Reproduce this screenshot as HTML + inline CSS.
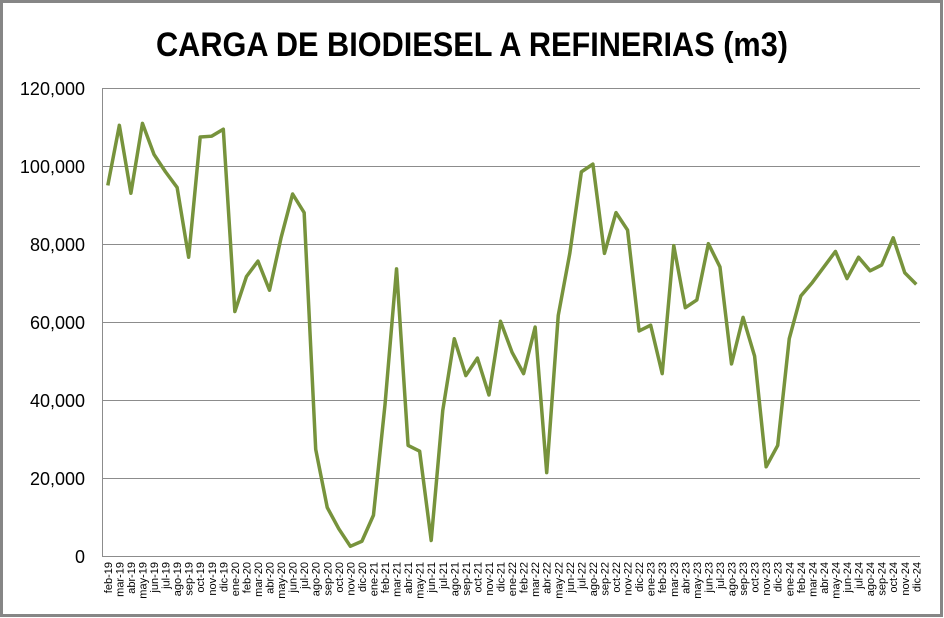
<!DOCTYPE html>
<html><head><meta charset="utf-8"><style>
html,body{margin:0;padding:0;background:#fff}
svg{display:block}
text{font-family:"Liberation Sans",sans-serif}
</style></head><body>
<svg width="944" height="618" viewBox="0 0 944 618" xmlns="http://www.w3.org/2000/svg">
<rect x="1.5" y="1.5" width="940" height="614" fill="#fff" stroke="#868686" stroke-width="3"/>
<text x="472" y="56" text-anchor="middle" font-size="34" font-weight="bold" textLength="632" lengthAdjust="spacingAndGlyphs">CARGA DE BIODIESEL A REFINERIAS (m3)</text>
<g stroke="#8c8c8c" stroke-width="1" fill="none">
<line x1="102" y1="88.5" x2="920" y2="88.5"/>
<line x1="102" y1="166.5" x2="920" y2="166.5"/>
<line x1="102" y1="244.5" x2="920" y2="244.5"/>
<line x1="102" y1="322.5" x2="920" y2="322.5"/>
<line x1="102" y1="400.5" x2="920" y2="400.5"/>
<line x1="102" y1="478.5" x2="920" y2="478.5"/>
<line x1="102" y1="556.5" x2="920" y2="556.5"/>
<line x1="102.5" y1="88" x2="102.5" y2="557"/>
</g>
<g font-size="18" text-anchor="end" fill="#000">
<text x="85" y="95">120,000</text>
<text x="85" y="173">100,000</text>
<text x="85" y="251">80,000</text>
<text x="85" y="329">60,000</text>
<text x="85" y="407">40,000</text>
<text x="85" y="485">20,000</text>
<text x="85" y="563">0</text>
</g>
<polyline fill="none" stroke="#77933C" stroke-width="3.5" stroke-linejoin="round" vector-effect="non-scaling-stroke" transform="translate(107.8,556) scale(11.55,-3.88)" points="0,95.5 1,111 2,93.5 3,111.5 4,103.5 5,99 6,95 7,77 8,108 9,108.2 10,110 11,63 12,72 13,76 14,68.5 15,82 16,93.3 17,88.5 18,27.5 19,12.5 20,7 21,2.5 22,3.8 23,10.5 24,39 25,74 26,28.5 27,27 28,4 29,37.5 30,56 31,46.5 32,51 33,41.5 34,60.5 35,52.5 36,47 37,59 38,21.5 39,62 40,78 41,99 42,101 43,78 44,88.5 45,84 46,58 47,59.5 48,47 49,80 50,64 51,66 52,80.5 53,74.5 54,49.5 55,61.5 56,51.5 57,23 58,28.5 59,56 60,67 61,70.5 62,74.5 63,78.5 64,71.5 65,77 66,73.5 67,75 68,82 69,73 70,70"/>
<g transform="translate(111.8,0) rotate(-90)" font-size="11" text-anchor="end" fill="#000">
<text x="-562" y="0">feb-19</text>
<text x="-562" y="11.6">mar-19</text>
<text x="-562" y="23.1">abr-19</text>
<text x="-562" y="34.7">may-19</text>
<text x="-562" y="46.2">jun-19</text>
<text x="-562" y="57.8">jul-19</text>
<text x="-562" y="69.3">ago-19</text>
<text x="-562" y="80.9">sep-19</text>
<text x="-562" y="92.4">oct-19</text>
<text x="-562" y="104">nov-19</text>
<text x="-562" y="115.5">dic-19</text>
<text x="-562" y="127.1">ene-20</text>
<text x="-562" y="138.6">feb-20</text>
<text x="-562" y="150.2">mar-20</text>
<text x="-562" y="161.7">abr-20</text>
<text x="-562" y="173.3">may-20</text>
<text x="-562" y="184.8">jun-20</text>
<text x="-562" y="196.4">jul-20</text>
<text x="-562" y="207.9">ago-20</text>
<text x="-562" y="219.5">sep-20</text>
<text x="-562" y="231">oct-20</text>
<text x="-562" y="242.6">nov-20</text>
<text x="-562" y="254.1">dic-20</text>
<text x="-562" y="265.7">ene-21</text>
<text x="-562" y="277.2">feb-21</text>
<text x="-562" y="288.8">mar-21</text>
<text x="-562" y="300.3">abr-21</text>
<text x="-562" y="311.9">may-21</text>
<text x="-562" y="323.4">jun-21</text>
<text x="-562" y="335">jul-21</text>
<text x="-562" y="346.5">ago-21</text>
<text x="-562" y="358.1">sep-21</text>
<text x="-562" y="369.6">oct-21</text>
<text x="-562" y="381.2">nov-21</text>
<text x="-562" y="392.7">dic-21</text>
<text x="-562" y="404.3">ene-22</text>
<text x="-562" y="415.8">feb-22</text>
<text x="-562" y="427.4">mar-22</text>
<text x="-562" y="438.9">abr-22</text>
<text x="-562" y="450.5">may-22</text>
<text x="-562" y="462">jun-22</text>
<text x="-562" y="473.6">jul-22</text>
<text x="-562" y="485.1">ago-22</text>
<text x="-562" y="496.7">sep-22</text>
<text x="-562" y="508.2">oct-22</text>
<text x="-562" y="519.8">nov-22</text>
<text x="-562" y="531.3">dic-22</text>
<text x="-562" y="542.9">ene-23</text>
<text x="-562" y="554.4">feb-23</text>
<text x="-562" y="566">mar-23</text>
<text x="-562" y="577.5">abr-23</text>
<text x="-562" y="589.1">may-23</text>
<text x="-562" y="600.6">jun-23</text>
<text x="-562" y="612.2">jul-23</text>
<text x="-562" y="623.7">ago-23</text>
<text x="-562" y="635.3">sep-23</text>
<text x="-562" y="646.8">oct-23</text>
<text x="-562" y="658.4">nov-23</text>
<text x="-562" y="669.9">dic-23</text>
<text x="-562" y="681.5">ene-24</text>
<text x="-562" y="693">feb-24</text>
<text x="-562" y="704.6">mar-24</text>
<text x="-562" y="716.1">abr-24</text>
<text x="-562" y="727.7">may-24</text>
<text x="-562" y="739.2">jun-24</text>
<text x="-562" y="750.8">jul-24</text>
<text x="-562" y="762.3">ago-24</text>
<text x="-562" y="773.9">sep-24</text>
<text x="-562" y="785.4">oct-24</text>
<text x="-562" y="797">nov-24</text>
<text x="-562" y="808.5">dic-24</text>
</g>
</svg>
</body></html>
